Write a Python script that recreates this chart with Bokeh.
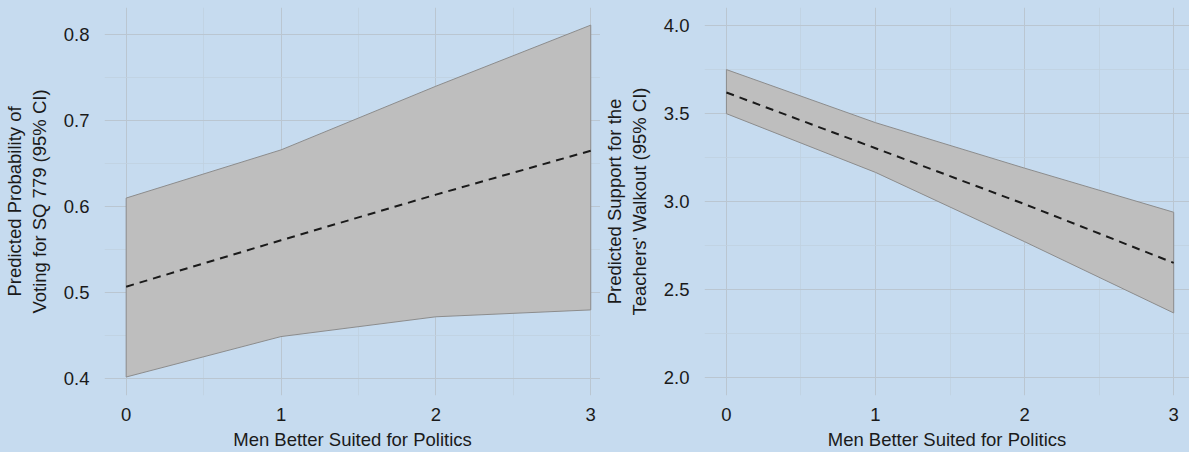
from bokeh.plotting import figure
from bokeh.layouts import row
from bokeh.models import Range1d, FixedTicker, ColumnDataSource
from bokeh.embed import file_html
from bokeh.resources import INLINE

# ---- data ----
x_vals = [0, 1, 2, 3]

sq_mean = [0.507, 0.561, 0.614, 0.665]
sq_lower = [0.402, 0.449, 0.472, 0.480]
sq_upper = [0.610, 0.666, 0.740, 0.811]

walk_mean = [3.618, 3.302, 2.985, 2.652]
walk_lower = [3.498, 3.165, 2.772, 2.368]
walk_upper = [3.748, 3.447, 3.189, 2.939]

x_ticks = [0, 1, 2, 3]
x_minor = [0.5, 1.5, 2.5]
sq_ticks = [0.4, 0.5, 0.6, 0.7, 0.8]
sq_minor = [0.45, 0.55, 0.65, 0.75]
walk_ticks = [2.0, 2.5, 3.0, 3.5, 4.0]
walk_minor = [2.25, 2.75, 3.25, 3.75]

x_title = "Men Better Suited for Politics"
sq_title = "Predicted Probability of\nVoting for SQ 779 (95% CI)"
walk_title = "Predicted Support for the\nTeachers' Walkout (95% CI)"

BG = "#c6dbef"
FONT = "Liberation Sans"
TXT = "#1a1a1a"


def make_panel(mean, lower, upper, yticks, yminor, ylab, xr, yr, width, left_border, fmt):
    p = figure(width=width, height=452, output_backend="svg", toolbar_location=None,
               x_range=Range1d(*xr), y_range=Range1d(*yr),
               min_border_top=7, min_border_bottom=50, min_border_left=left_border,
               min_border_right=0)
    p.background_fill_color = BG
    p.border_fill_color = BG
    p.outline_line_color = None

    p.xaxis.ticker = FixedTicker(ticks=x_ticks, minor_ticks=x_minor)
    p.yaxis.ticker = FixedTicker(ticks=yticks, minor_ticks=yminor)
    p.xgrid.grid_line_color = "#bac6d1"
    p.ygrid.grid_line_color = "#bac6d1"
    p.xgrid.minor_grid_line_color = "#c0d0e0"
    p.ygrid.minor_grid_line_color = "#c0d0e0"
    p.xgrid.grid_line_width = 1
    p.ygrid.grid_line_width = 1
    p.xgrid.minor_grid_line_width = 0.8
    p.ygrid.minor_grid_line_width = 0.8

    for ax in (p.xaxis[0], p.yaxis[0]):
        ax.axis_line_color = None
        ax.major_tick_line_color = None
        ax.minor_tick_line_color = None
        ax.major_label_text_font = FONT
        ax.major_label_text_font_size = "18.5px"
        ax.major_label_text_color = TXT
        ax.axis_label_text_font = FONT
        ax.axis_label_text_font_size = "18.5px"
        ax.axis_label_text_font_style = "normal"
        ax.axis_label_text_color = TXT
    p.xaxis.major_label_standoff = 6
    p.yaxis.major_label_standoff = 9
    p.xaxis.axis_label = x_title
    p.xaxis.axis_label_standoff = 5
    p.yaxis.axis_label = ylab
    p.yaxis.axis_label_standoff = 11
    p.yaxis.major_label_overrides = {t: fmt.format(t) for t in yticks}
    p.xaxis.major_label_overrides = {t: str(t) for t in x_ticks}

    src = ColumnDataSource(dict(x=x_vals, mean=mean, lower=lower, upper=upper))
    poly_x = x_vals + x_vals[::-1] + [x_vals[0]]
    poly_y = upper + lower[::-1] + [upper[0]]
    p.varea(x="x", y1="lower", y2="upper", source=src, fill_color="#bebebe", fill_alpha=1.0)
    p.line(poly_x, poly_y, line_color="#8c8c8c", line_width=1)
    p.line(x="x", y="mean", source=src, line_color="#1a1a1a", line_width=2, line_dash="8 6")
    return p


p1 = make_panel(sq_mean, sq_lower, sq_upper, sq_ticks, sq_minor, sq_title,
                (-0.14, 3.063), (0.3805, 0.8315), 600, 103, "{:.1f}")
p2 = make_panel(walk_mean, walk_lower, walk_upper, walk_ticks, walk_minor, walk_title,
                (-0.147, 3.106), (1.9, 4.1), 589, 102, "{:.1f}")

layout = row(p1, p2, spacing=0)
layout.styles = {"background-color": BG}

open("out.html", "w").write(file_html(layout, INLINE))
